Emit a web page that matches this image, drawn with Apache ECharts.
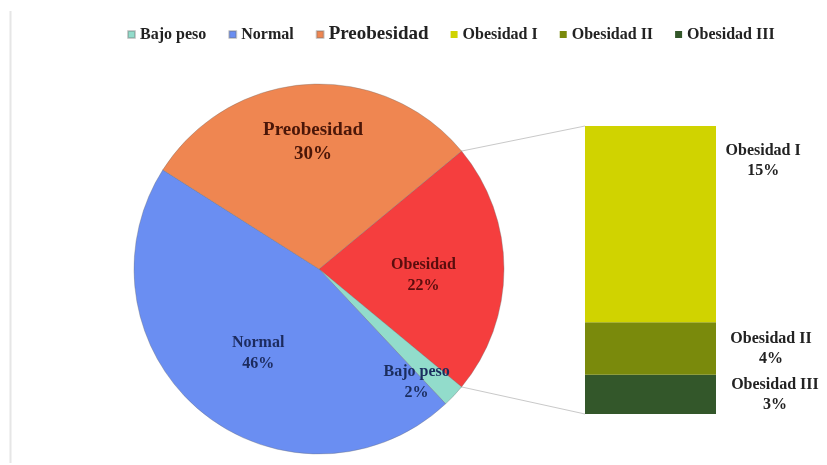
<!DOCTYPE html>
<html>
<head>
<meta charset="utf-8">
<script src="https://cdn.jsdelivr.net/npm/echarts@6.0.0/dist/echarts.min.js"></script>
<style>
  html, body { margin: 0; padding: 0; background: #ffffff; }
  #chart { width: 827px; height: 465px; }
</style>
</head>
<body>
<div id="chart"></div>
<script>
// Distribution of BMI categories (%), with the obesity share broken down by grade
const pieNames = ['Obesidad', 'Bajo peso', 'Normal', 'Preobesidad'];
const pieValues = [22, 2, 46, 30];

// Obesity grades, stacked from the bottom up
const barNames = ['Obesidad III', 'Obesidad II', 'Obesidad I'];
const barValues = [3, 4, 15];

const legendNames = ['Bajo peso', 'Normal', 'Preobesidad', 'Obesidad I', 'Obesidad II', 'Obesidad III'];

const colors = {
  'Bajo peso': '#92dccb',
  'Normal': '#6a8ef2',
  'Preobesidad': '#ef8651',
  'Obesidad': '#f53e3e',
  'Obesidad I': '#d0d300',
  'Obesidad II': '#7a8a0c',
  'Obesidad III': '#33572a'
};
const labelColors = {
  'Bajo peso': '#1b2d5e',
  'Normal': '#1c2b5e',
  'Preobesidad': '#4a1608',
  'Obesidad': '#5a0d0d'
};
const pieLabelOffsets = {
  'Obesidad': [9, 6],
  'Bajo peso': [28, 48],
  'Normal': [0, 11],
  'Preobesidad': [0, -32]
};
const barLabelPos = {
  'Obesidad I': ['136%', '18%'],
  'Obesidad II': ['142%', '50%'],
  'Obesidad III': ['145%', '50%']
};

// layout
const pieCenter = [319, 269];
const pieRadius = 185;
const barGrid = { left: 585, top: 126, width: 131, height: 288 };
const serif = '"Liberation Serif", "Times New Roman", serif';

const pieTotal = pieValues.reduce((s, v) => s + v, 0);
// the "Obesidad" slice is centred on the right-hand side, facing the bar
const startAngle = pieValues[0] / pieTotal * 180;
const barTotal = barValues.reduce((s, v) => s + v, 0);

const chart = echarts.init(document.getElementById('chart'), null, { renderer: 'canvas' });

const series = [{
  type: 'pie',
  center: pieCenter,
  radius: pieRadius,
  startAngle: startAngle,
  clockwise: true,
  avoidLabelOverlap: false,
  silent: true,
  itemStyle: { borderColor: 'rgba(110,110,110,0.35)', borderWidth: 1 },
  label: {
    show: true,
    position: 'inside',
    formatter: '{b}\n{c}%',
    fontFamily: serif,
    fontWeight: 'bold',
    fontSize: 16,
    lineHeight: 21
  },
  labelLine: { show: false },
  data: pieNames.map((n, i) => ({
    name: n,
    value: pieValues[i],
    itemStyle: { color: colors[n] },
    label: {
      color: labelColors[n],
      offset: pieLabelOffsets[n],
      fontSize: n === 'Preobesidad' ? 19 : 16,
      lineHeight: n === 'Preobesidad' ? 24 : 21
    }
  }))
}];

barNames.forEach((n, i) => {
  series.push({
    type: 'bar',
    name: n,
    stack: 'obesidad',
    barWidth: '100%',
    silent: true,
    itemStyle: { color: colors[n] },
    label: {
      show: true,
      position: barLabelPos[n],
      align: 'center',
      verticalAlign: 'middle',
      formatter: '{a}\n{c}%',
      color: '#222222',
      fontFamily: serif,
      fontWeight: 'bold',
      fontSize: 16,
      lineHeight: 20
    },
    data: [barValues[i]]
  });
});

chart.setOption({
  animation: false,
  backgroundColor: '#ffffff',
  legend: {
    left: 122,
    top: 20,
    icon: 'rect',
    itemWidth: 7,
    itemHeight: 7,
    itemGap: 22,
    selectedMode: false,
    textStyle: { fontFamily: serif, fontWeight: 'bold', fontSize: 16, color: '#222222' },
    data: legendNames.map(n => n === 'Preobesidad'
      ? { name: n, textStyle: { fontSize: 19 } }
      : { name: n })
  },
  grid: barGrid,
  xAxis: { type: 'category', data: ['Obesidad'], show: false },
  yAxis: { type: 'value', min: 0, max: barTotal, show: false },
  series: series
});

// connector lines from the edges of the "Obesidad" slice to the stacked bar
const a = startAngle * Math.PI / 180;
const edgeTop = [pieCenter[0] + pieRadius * Math.cos(a), pieCenter[1] - pieRadius * Math.sin(a)];
const edgeBottom = [pieCenter[0] + pieRadius * Math.cos(a), pieCenter[1] + pieRadius * Math.sin(a)];
const barTopY = chart.convertToPixel({ yAxisIndex: 0 }, barTotal);
const barBottomY = chart.convertToPixel({ yAxisIndex: 0 }, 0);
const lineStyle = { stroke: '#c9c9c9', lineWidth: 1 };

chart.setOption({
  graphic: [
    { type: 'line', silent: true, shape: { x1: edgeTop[0], y1: edgeTop[1], x2: barGrid.left, y2: barTopY }, style: lineStyle },
    { type: 'line', silent: true, shape: { x1: edgeBottom[0], y1: edgeBottom[1], x2: barGrid.left, y2: barBottomY }, style: lineStyle },
    { type: 'line', silent: true, shape: { x1: 10.5, y1: 11, x2: 10.5, y2: 463 }, style: { stroke: '#e6e6e6', lineWidth: 2 } }
  ]
});
</script>
</body>
</html>
